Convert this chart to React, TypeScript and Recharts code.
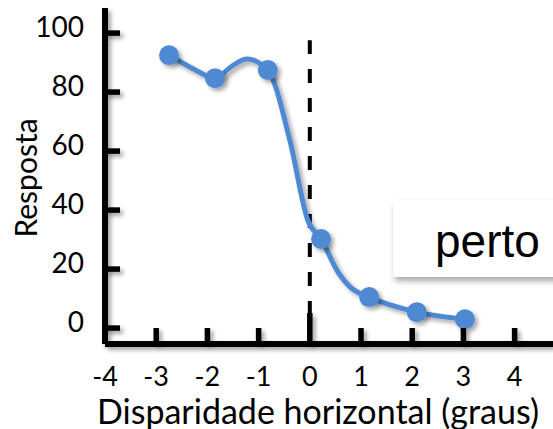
import { ComposedChart, Line, Scatter, XAxis, YAxis, ReferenceLine } from "recharts";

// measured points
const pointX = [-2.75, -1.85, -0.82, 0.22, 1.16, 2.09, 3.03];
const pointY = [92.5, 84.7, 87.5, 30.2, 10.5, 5.4, 3.0];

// fitted curve
const curveX = [-2.75, -2.3, -1.85, -1.52, -1.23, -0.82, -0.39, -0.04, 0.22, 0.55, 0.79, 1.16, 2.09, 3.03];
const curveY = [92.5, 88.1, 84.7, 88.8, 91.2, 87.5, 63.7, 36.6, 30.2, 19.0, 13.9, 10.5, 5.4, 3.0];

const xTicks = [-4, -3, -2, -1, 0, 1, 2, 3, 4];
const yTicks = [0, 20, 40, 60, 80, 100];

const BLUE = "#5089d3";
const SANS = "Lato, 'Open Sans', sans-serif";

const points = pointX.map((x, i) => ({ x, y: pointY[i] }));
const curve = curveX.map((x, i) => ({ x, y: curveY[i] }));

const YTick = ({ x, y, payload }: any) => (
  <g>
    <line x1={x} x2={x + 15} y1={y} y2={y} stroke="#000" strokeWidth={5.5} filter="url(#sh)" />
    <text x={x - 21} y={y - 7} textAnchor="end" dominantBaseline="central" fontSize={28} fontFamily={SANS} fill="#000">
      {payload.value}
    </text>
  </g>
);

const XTick = ({ x, y, payload }: any) => (
  <g>
    {payload.value !== -4 && (
      <line x1={x} x2={x} y1={y - (payload.value === 0 ? 31 : 16)} y2={y} stroke="#000" strokeWidth={5.5} filter="url(#sh)" />
    )}
    <text x={x} y={y + 31} textAnchor="middle" dominantBaseline="central" fontSize={27} fontFamily={SANS} fill="#000">
      {payload.value}
    </text>
  </g>
);

const App = () => (
  <div style={{ position: "absolute", left: 0, top: 0, width: 553, height: 429, overflow: "hidden", background: "#fff" }}>
    <ComposedChart width={553} height={429} margin={{ top: 8, right: 0, left: 0, bottom: 0 }}>
      <defs>
        <filter id="sh" filterUnits="userSpaceOnUse" x={0} y={0} width={553} height={429}>
          <feDropShadow dx={3} dy={3} stdDeviation={2} floodColor="#000" floodOpacity={0.35} />
        </filter>
      </defs>
      <XAxis
        type="number"
        dataKey="x"
        domain={[-4, 4.75]}
        ticks={xTicks}
        allowDataOverflow
        height={85}
        tickSize={0}
        tickMargin={0}
        tickLine={false}
        tick={<XTick />}
        axisLine={{ stroke: "#000", strokeWidth: 6, filter: "url(#sh)" }}
        label={{
          content: ({ viewBox }: any) => (
            <text x={viewBox.x + viewBox.width / 2 - 11} y={viewBox.y + 66} textAnchor="middle" dominantBaseline="central" fontSize={34} fontFamily={SANS} fill="#000">
              Disparidade horizontal (graus)
            </text>
          ),
        }}
      />
      <YAxis
        type="number"
        dataKey="y"
        domain={[-5.4, 108.5]}
        ticks={yTicks}
        allowDataOverflow
        width={105}
        tickSize={0}
        tickMargin={0}
        tickLine={false}
        tick={<YTick />}
        axisLine={{ stroke: "#000", strokeWidth: 6, filter: "url(#sh)" }}
        label={{
          content: () => (
            <text
              x={25}
              y={178}
              transform="rotate(-90 25 178)"
              textAnchor="middle"
              dominantBaseline="central"
              fontSize={30}
              fontFamily={SANS}
              fill="#000"
            >
              Resposta
            </text>
          ),
        }}
      />
      <ReferenceLine
        segment={[{ x: 0, y: -5.4 }, { x: 0, y: 97.6 }]}
        stroke="#000"
        strokeWidth={4}
        strokeDasharray="14 15"
        ifOverflow="visible"
      />
      <Line
        data={curve}
        dataKey="y"
        type="monotone"
        stroke={BLUE}
        strokeWidth={5}
        dot={false}
        activeDot={false}
        filter="url(#sh)"
        isAnimationActive={false}
      />
      <Scatter
        data={points}
        dataKey="y"
        fill={BLUE}
        shape={(p: any) => <circle cx={p.cx} cy={p.cy} r={10} fill={BLUE} filter="url(#sh)" />}
        isAnimationActive={false}
      />
    </ComposedChart>
    <div
      style={{
        position: "absolute",
        left: 393,
        top: 200,
        width: 180,
        height: 77,
        background: "#fff",
        boxShadow: "2px 4px 6px rgba(0,0,0,0.35)",
        fontFamily: "'Liberation Sans', Arial, sans-serif",
        fontSize: 46,
        lineHeight: "77px",
        paddingLeft: 42,
        paddingTop: 3,
        boxSizing: "border-box",
        color: "#000",
      }}
    >
      perto
    </div>
  </div>
);

export default App;
